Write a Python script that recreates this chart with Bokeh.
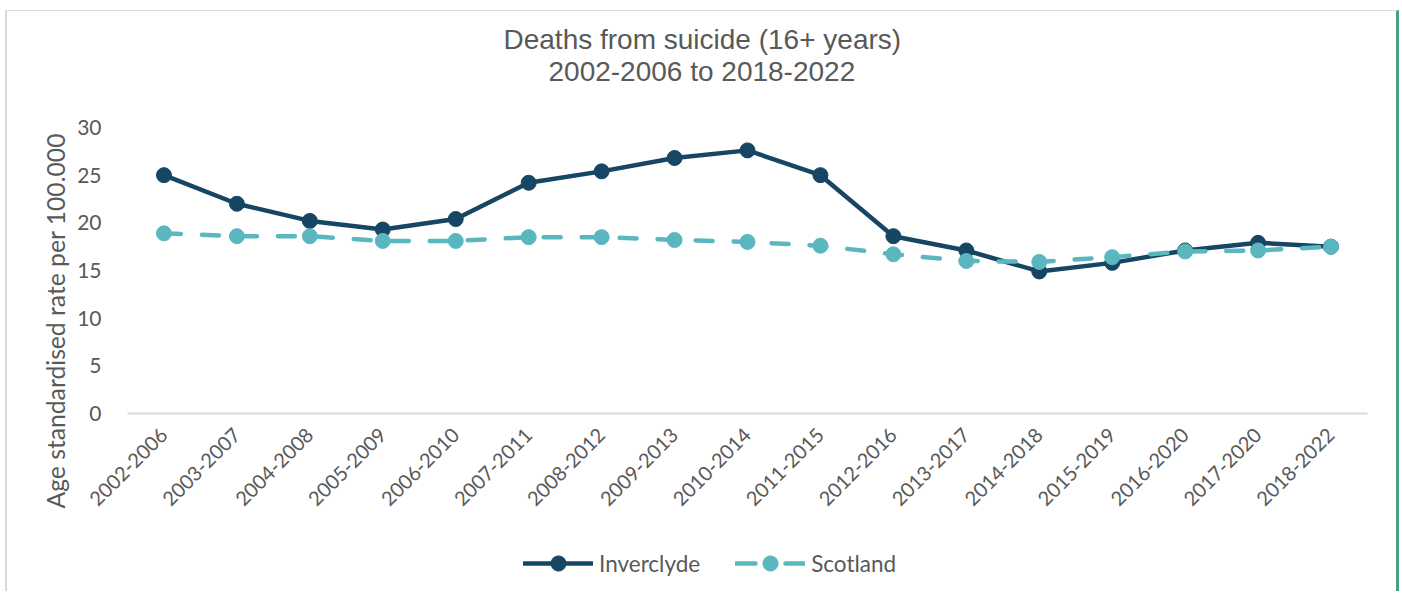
import math
from bokeh.plotting import figure
from bokeh.layouts import column
from bokeh.models import Range1d, FactorRange, Legend, LegendItem, Title
from bokeh.embed import file_html
from bokeh.resources import INLINE

periods = ["2002-2006", "2003-2007", "2004-2008", "2005-2009", "2006-2010",
           "2007-2011", "2008-2012", "2009-2013", "2010-2014", "2011-2015",
           "2012-2016", "2013-2017", "2014-2018", "2015-2019", "2016-2020",
           "2017-2020", "2018-2022"]
inverclyde = [25.0, 22.0, 20.2, 19.3, 20.4, 24.2, 25.4, 26.8, 27.6, 25.0,
              18.6, 17.1, 14.9, 15.8, 17.1, 17.9, 17.5]
scotland = [18.9, 18.6, 18.6, 18.1, 18.1, 18.5, 18.5, 18.2, 18.0, 17.6,
            16.7, 16.0, 15.9, 16.4, 17.0, 17.1, 17.5]
y_ticks = [0, 5, 10, 15, 20, 25, 30]

DARK = "#164663"
TEAL = "#5ab7c0"
GREY = "#595959"

p = figure(width=1389, height=524, x_range=FactorRange(*periods, range_padding=0),
           y_range=Range1d(0, 30), output_backend="svg", toolbar_location=None,
           min_border_left=120, min_border_right=29, min_border_top=116,
           min_border_bottom=122)
p.outline_line_color = None
p.xgrid.grid_line_color = None
p.ygrid.grid_line_color = None

p.title = None
# spacer between frame and title lines (stacked outward from the frame)
p.add_layout(Title(text=" ", text_font_size="10px", standoff=32), "above")
p.add_layout(Title(text="2002-2006 to 2018-2022", align="left", offset=421,
                   text_font="Liberation Sans", text_font_size="28px",
                   text_font_style="normal", text_color=GREY, standoff=-8), "above")
p.add_layout(Title(text="Deaths from suicide (16+ years)", align="left", offset=376,
                   text_font="Liberation Sans", text_font_size="28px",
                   text_font_style="normal", text_color=GREY, standoff=6), "above")
p.add_layout(Title(text="Age standardised rate per 100.000", align="left", offset=-95,
                   text_font="Lato", text_font_size="24.7px", text_font_style="normal",
                   text_color=GREY, standoff=10), "left")

p.line(periods, inverclyde, line_color=DARK, line_width=4.5, line_join="round")
p.scatter(periods, inverclyde, size=15, fill_color=DARK, line_color=DARK)
p.line(periods, scotland, line_color=TEAL, line_width=4.5, line_dash="17 21",
       line_cap="round", line_join="round")
p.scatter(periods, scotland, size=15, fill_color=TEAL, line_color=TEAL)

xa = p.xaxis[0]
xa.major_label_orientation = math.pi / 4
xa.major_label_text_font = "Lato"
xa.major_label_text_font_size = "20px"
xa.major_label_text_color = GREY
xa.major_tick_line_color = None
xa.minor_tick_line_color = None
xa.axis_line_color = "#d9d9d9"
xa.axis_line_width = 2
xa.major_label_standoff = 12

ya = p.yaxis[0]
ya.ticker = y_ticks
ya.major_label_text_font = "Lato"
ya.major_label_text_font_size = "21px"
ya.major_label_text_color = GREY
ya.major_tick_line_color = None
ya.minor_tick_line_color = None
ya.axis_line_color = None
ya.major_label_standoff = 20

# legend strip below the chart: same series, drawn out of view, used only for the key
lg = figure(width=1389, height=56, x_range=FactorRange(*periods),
            y_range=Range1d(1000, 1001), output_backend="svg", toolbar_location=None,
            x_axis_type=None, y_axis_type=None, min_border=0)
lg.outline_line_color = None
lg.xgrid.grid_line_color = None
lg.ygrid.grid_line_color = None
l1 = lg.line(periods, inverclyde, line_color=DARK, line_width=4.5, line_cap="round")
s1 = lg.scatter(periods, inverclyde, size=15, fill_color=DARK, line_color=DARK)
l2 = lg.line(periods, scotland, line_color=TEAL, line_width=4.5, line_dash="20 30",
             line_cap="round")
s2 = lg.scatter(periods, scotland, size=15, fill_color=TEAL, line_color=TEAL)
legend = Legend(items=[LegendItem(label="Inverclyde", renderers=[l1, s1]),
                       LegendItem(label="Scotland", renderers=[l2, s2])],
                orientation="horizontal", location=(396, 9),
                glyph_width=70, glyph_height=38, label_standoff=6, spacing=35,
                label_text_font="Lato", label_text_font_size="22.5px",
                label_text_color=GREY, border_line_color=None,
                background_fill_alpha=0, margin=0, padding=4)
lg.add_layout(legend)

layout = column(p, lg, spacing=0,
                styles={"margin-left": "5px", "margin-top": "10px",
                        "border-left": "2px solid #d9d9d9",
                        "border-top": "1px solid #d9d9d9",
                        "border-right": "3px solid #4c9e80"})

open("out.html", "w").write(file_html(layout, INLINE))
